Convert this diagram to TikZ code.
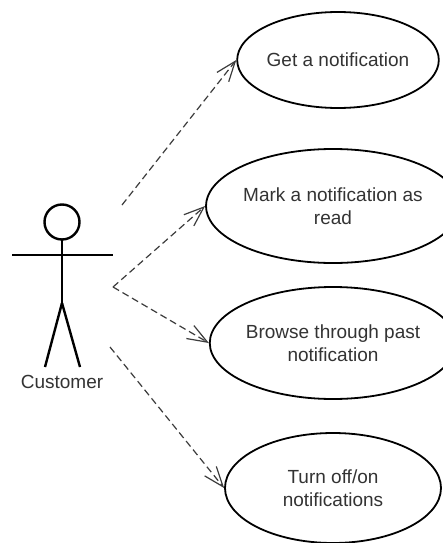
\documentclass[tikz,border=0pt]{standalone}
\usepackage{fontspec}
\setmainfont{Liberation Sans}
\usetikzlibrary{shapes.geometric,arrows.meta}
\definecolor{txt}{HTML}{333333}
\definecolor{lnk}{HTML}{3C3C3C}
\tikzset{
  usecase/.style={ellipse, draw=black, line width=1.8pt, fill=white,
    text=txt, align=center, inner sep=0pt,
    font=\fontsize{19}{23}\selectfont},
  actorline/.style={draw=black, line width=2.4pt},
  dep/.style={draw=lnk, line width=1.2pt, dash pattern=on 7pt off 4pt,
    -{Straight Barb[length=20pt,width=15pt,line width=1.2pt]}},
}
\begin{document}
\begin{tikzpicture}[x=1pt,y=-1pt]
\useasboundingbox[fill=white] (0,0) rectangle (443,543);

% actor
\draw[actorline] (62,222) circle (17.5);
\draw[actorline] (62,239.5) -- (62,303);
\draw[actorline] (12,255) -- (113,255);
\draw[actorline] (62,303) -- (45,367);
\draw[actorline] (62,303) -- (80,367);
\node[text=txt, font=\fontsize{19}{23}\selectfont] (cust) at (62,382) {Customer};

% use cases
\node[usecase, minimum width=190, minimum height=96] (e1) at (338,60) {Get a notification};
\node[usecase, minimum width=216, minimum height=114] (e2) at (333,206) {Mark a notification as\\read};
\node[usecase, minimum width=216, minimum height=112] (e3) at (333,343) {Browse through past\\notification};
\node[usecase, minimum width=216, minimum height=110] (e4) at (333,488) {Turn off/on\\notifications};

% connector starting points beside the actor
\coordinate (s1) at (122,205);
\coordinate (s2) at (113,287);
\coordinate (s4) at (110,347);

\draw[dep] (s1) -- (e1.west);
\draw[dep] (s2) -- (e2.west);
\draw[dep] (s2) -- (e3.west);
\draw[dep] (s4) -- (e4.west);
\end{tikzpicture}
\end{document}
